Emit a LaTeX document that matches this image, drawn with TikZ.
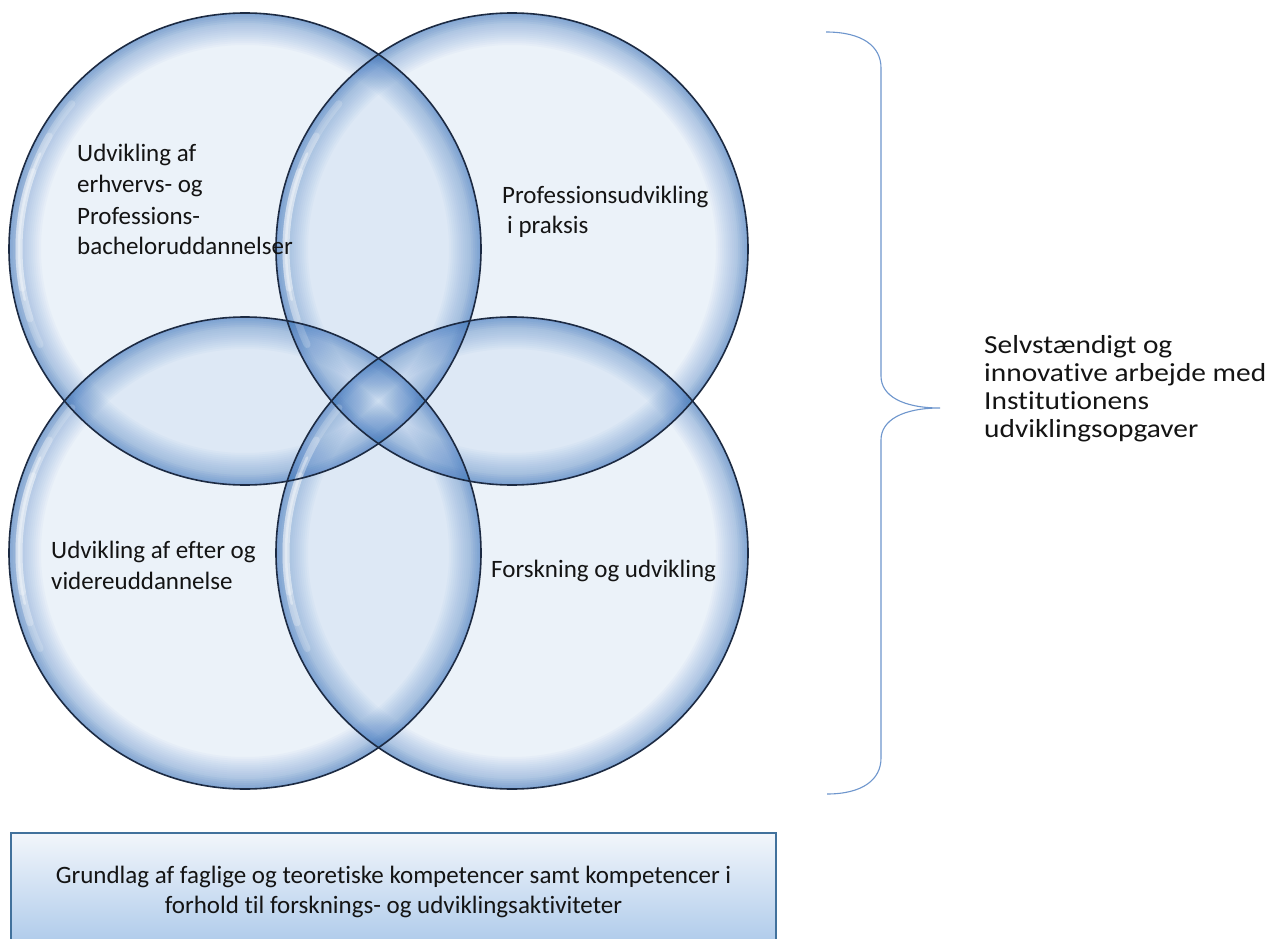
\documentclass[tikz,border=0pt]{standalone}
\usepackage{fontspec}
\setmainfont{Carlito}[Ligatures=NoCommon]
\newfontfamily\bracefont{Carlito}[FakeStretch=1.13,Ligatures=NoCommon]
\usetikzlibrary{calc}
\definecolor{bubblefill}{RGB}{190,212,238}
\definecolor{glowblue}{RGB}{66,122,195}
\definecolor{rimdark}{RGB}{28,42,66}
\definecolor{boxedge}{RGB}{65,113,156}
\definecolor{boxtop}{RGB}{242,246,251}
\definecolor{boxbottom}{RGB}{172,201,234}
\definecolor{bracecol}{RGB}{110,150,205}
\definecolor{txt}{RGB}{20,20,20}
\tikzset{
  lbl/.style={font=\fontsize{25}{30}\selectfont, inner sep=0pt, text=txt},
  bracelbl/.style={font=\bracefont\fontsize{26}{28}\selectfont, inner sep=0pt, text=txt},
  rim/.style={draw=rimdark, line width=1.6pt},
  bracestyle/.style={draw=bracecol, line width=1.1pt},
  boxstyle/.style={draw=boxedge, line width=2pt, top color=boxtop, bottom color=boxbottom}
}
\begin{document}
\begin{tikzpicture}[x=1pt,y=-1pt]
\useasboundingbox (0,0) rectangle (1272,939);
\fill[white] (0,0) rectangle (1272,939);
% centres
\coordinate (cTL) at (245,249);
\coordinate (cTR) at (512,249);
\coordinate (cBL) at (245,553);
\coordinate (cBR) at (512,553);
% translucent fills
\foreach \c in {cTL,cTR,cBL,cBR}
  \fill[bubblefill, fill opacity=0.30] (\c) circle[radius=236pt];
% inner glow rings
\foreach \c in {cTL,cTR,cBL,cBR}{
  \foreach \w in {2,4,...,32}{
    \pgfmathsetmacro\rr{236-\w/2}
    \draw[glowblue, line width=\w pt, draw opacity=0.036] (\c) circle[radius=\rr pt];
  }
  \foreach \w in {2,4,6,8,10}{
    \pgfmathsetmacro\rr{236-\w/2}
    \draw[glowblue, line width=\w pt, draw opacity=0.05] (\c) circle[radius=\rr pt];
  }
}
% soft white highlights on the left inner side
\foreach \c in {cTL,cTR,cBL,cBR}{
  \foreach \a/\b/\op in {140/205/0.18,150/198/0.22,160/190/0.25}{
    \draw[white, line width=7pt, draw opacity=\op, line cap=round]
      ($(\c)+(\a:226pt)$) arc[start angle=\a, end angle=\b, radius=226pt];
  }
  \draw[white, line width=2.5pt, draw opacity=0.35, line cap=round]
    ($(\c)+(155:226pt)$) arc[start angle=155, end angle=193, radius=226pt];
}
% dark rims
\foreach \c in {cTL,cTR,cBL,cBR}
  \draw[rim] (\c) circle[radius=236pt];
% circle labels
\node[lbl, anchor=base west] (tl1) at (77,162) {Udvikling af};
\node[lbl, anchor=base west] (tl2) at (77,193) {erhvervs- og};
\node[lbl, anchor=base west] (tl3) at (77,224) {Professions-};
\node[lbl, anchor=base west] (tl4) at (77,254) {bacheloruddannelser};
\node[lbl, anchor=base west] (tr1) at (502,203) {Professionsudvikling};
\node[lbl, anchor=base west] (tr2) at (507,233) {i praksis};
\node[lbl, anchor=base west] (bl1) at (51,558) {Udvikling af efter og};
\node[lbl, anchor=base west] (bl2) at (51,589) {videreuddannelse};
\node[lbl, anchor=base west] (br1) at (491,577) {Forskning og udvikling};
% bottom box
\path[boxstyle] (11,833) rectangle (776,948);
\node[lbl, anchor=base] (box1) at (393.5,883) {Grundlag af faglige og teoretiske kompetencer samt kompetencer i};
\node[lbl, anchor=base] (box2) at (393.5,913) {forhold til forsknings- og udviklingsaktiviteter};
% brace
\coordinate (bTop) at (826,32);
\coordinate (bTip) at (940,408);
\coordinate (bBot) at (827,794);
\draw[bracestyle] (bTop) .. controls (862,32) and (881,46) .. (881,68)
  -- (881,376) .. controls (881,396) and (903,408) .. (bTip)
  .. controls (903,408) and (881,420) .. (881,440)
  -- (881,758) .. controls (881,780) and (862,794) .. (bBot);
% brace label
\node[bracelbl, anchor=base west] (s1) at (984,353) {Selvstændigt og};
\node[bracelbl, anchor=base west] (s2) at (984,381) {innovative arbejde med};
\node[bracelbl, anchor=base west] (s3) at (984,409) {Institutionens};
\node[bracelbl, anchor=base west] (s4) at (984,437) {udviklingsopgaver};
\end{tikzpicture}
\end{document}
